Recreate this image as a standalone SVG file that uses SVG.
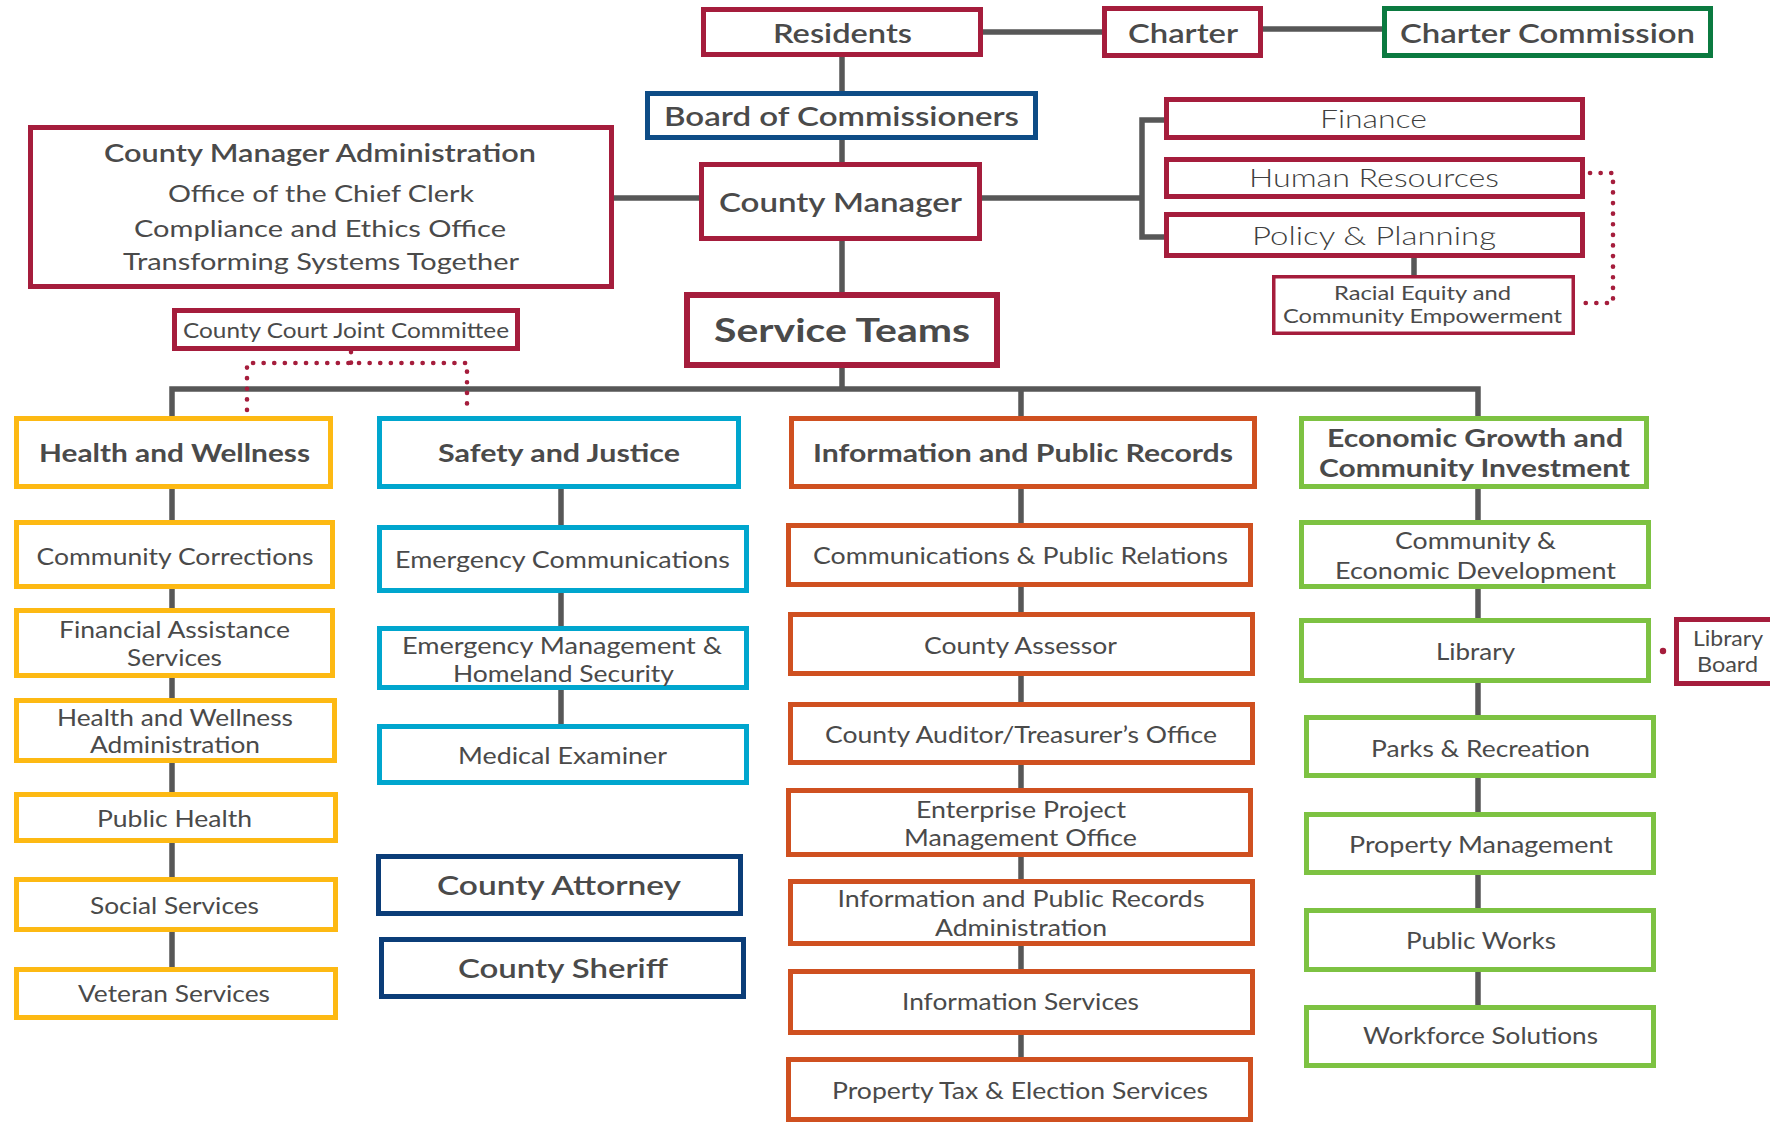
<svg xmlns="http://www.w3.org/2000/svg" width="1770" height="1124" viewBox="0 0 1770 1124">
<style>
.b{fill:#fff;stroke-width:5}
.red{stroke:#A51D3C}
.blue{stroke:#0E4C86}
.navy{stroke:#0B3D78}
.dgreen{stroke:#0B7A40}
.yel{stroke:#FDB913}
.cyan{stroke:#00A6CE}
.org{stroke:#CF5020}
.grn{stroke:#7DC242}
.ln{fill:none;stroke:#575757;stroke-width:5.5;stroke-linejoin:miter;stroke-linecap:butt}
.dot{fill:none;stroke:#A51D3C;stroke-width:4.6;stroke-dasharray:0.1 10.5;stroke-linecap:round}
text{font-family:Lato,"Open Sans","DejaVu Sans",sans-serif;fill:#4a4a4a;text-anchor:middle}
.top{font-size:26px;font-weight:600}
.hd{font-size:25px;font-weight:700}
.it{font-size:23px;font-weight:400}
.lt{font-size:26px;font-weight:300;fill:#3f3f3f}
.sm{font-size:20px;font-weight:400}
</style>
<rect width="1770" height="1124" fill="#fff"/>
<g id="connectors">
<path class="ln" d="M842 57V91M842 140V162M842 241V292M983 32H1102M1263 29H1382M614 198H699M982 198H1142M1164 120H1142V237H1164M1414 258V275"/>
<path class="ln" d="M842 368V389M172 416V389H1478V416M1021 389V416"/>
<path class="ln" d="M172 489V967M561 489V724M1021 489V1057M1478 489V1005"/>
<path class="dot" d="M351 352V363M247 410V363H467V410"/>
<path class="dot" d="M1590 173H1613V303H1578"/>
<circle cx="1663" cy="651" r="3.2" fill="#A51D3C"/>
</g>
<g id="residents"><rect class="b red" x="703.5" y="9.5" width="277" height="45"/><text class="top" x="842.5" y="43" textLength="139" lengthAdjust="spacingAndGlyphs">Residents</text></g>
<g id="charter"><rect class="b red" x="1104.5" y="8.5" width="156" height="47"/><text class="top" x="1183" y="43" textLength="110" lengthAdjust="spacingAndGlyphs">Charter</text></g>
<g id="charter-commission"><rect class="b dgreen" x="1384.5" y="8.5" width="326" height="47"/><text class="top" x="1547.5" y="43" textLength="295" lengthAdjust="spacingAndGlyphs">Charter Commission</text></g>
<g id="board"><rect class="b blue" x="647.5" y="93.5" width="388" height="44"/><text class="top" x="841.5" y="126" textLength="355" lengthAdjust="spacingAndGlyphs">Board of Commissioners</text></g>
<g id="county-manager"><rect class="b red" x="701.5" y="164.5" width="278" height="74"/><text class="top" x="840.5" y="212" textLength="243" lengthAdjust="spacingAndGlyphs">County Manager</text></g>
<g id="cma"><rect class="b red" x="30.5" y="127.5" width="581" height="159"/>
<text class="top" style="font-size:25px" x="320" y="162" textLength="432" lengthAdjust="spacingAndGlyphs">County Manager Administration</text>
<text class="it" style="font-size:24px" x="321" y="202" textLength="306" lengthAdjust="spacingAndGlyphs">Office of the Chief Clerk</text>
<text class="it" style="font-size:24px" x="320" y="237" textLength="372" lengthAdjust="spacingAndGlyphs">Compliance and Ethics Office</text>
<text class="it" style="font-size:24px" x="321" y="270" textLength="396" lengthAdjust="spacingAndGlyphs">Transforming Systems Together</text></g>
<g id="finance"><rect class="b red" x="1166.5" y="99.5" width="416" height="38"/><text class="lt" x="1373.5" y="128" textLength="107" lengthAdjust="spacingAndGlyphs">Finance</text></g>
<g id="hr"><rect class="b red" x="1166.5" y="159.5" width="416" height="37"/><text class="lt" x="1374" y="187" textLength="250" lengthAdjust="spacingAndGlyphs">Human Resources</text></g>
<g id="policy"><rect class="b red" x="1166.5" y="214.5" width="416" height="41"/><text class="lt" x="1374" y="245" textLength="244" lengthAdjust="spacingAndGlyphs">Policy &amp; Planning</text></g>
<g id="racial-equity"><rect class="b red" style="stroke-width:3.5" x="1273.75" y="276.75" width="299.5" height="56.5"/>
<text class="sm" x="1422.5" y="300" textLength="177" lengthAdjust="spacingAndGlyphs">Racial Equity and</text>
<text class="sm" x="1422.5" y="323" textLength="279" lengthAdjust="spacingAndGlyphs">Community Empowerment</text></g>
<g id="service-teams"><rect class="b red" style="stroke-width:6" x="687" y="295" width="310" height="70"/><text style="font-size:33px;font-weight:700" x="842" y="342" textLength="256" lengthAdjust="spacingAndGlyphs">Service Teams</text></g>
<g id="ccjc"><rect class="b red" x="174.5" y="310.5" width="343" height="38"/><text class="sm" style="font-size:21px" x="346" y="338" textLength="326" lengthAdjust="spacingAndGlyphs">County Court Joint Committee</text></g>

<g id="health-wellness"><rect class="b yel" x="16.5" y="418.5" width="314" height="68"/><text class="hd" x="174.5" y="462" textLength="271" lengthAdjust="spacingAndGlyphs">Health and Wellness</text></g>
<g id="community-corrections"><rect class="b yel" x="16.5" y="522.5" width="316" height="64"/><text class="it" x="175" y="565" textLength="277" lengthAdjust="spacingAndGlyphs">Community Corrections</text></g>
<g id="financial-assistance"><rect class="b yel" x="16.5" y="610.5" width="316" height="65"/><text class="it" x="174.5" y="638" textLength="231" lengthAdjust="spacingAndGlyphs">Financial Assistance</text><text class="it" x="174.5" y="666" textLength="95" lengthAdjust="spacingAndGlyphs">Services</text></g>
<g id="hw-admin"><rect class="b yel" x="16.5" y="700.5" width="318" height="60"/><text class="it" x="175" y="726" textLength="236" lengthAdjust="spacingAndGlyphs">Health and Wellness</text><text class="it" x="175" y="753" textLength="170" lengthAdjust="spacingAndGlyphs">Administration</text></g>
<g id="public-health"><rect class="b yel" x="16.5" y="794.5" width="319" height="46"/><text class="it" x="174.5" y="827" textLength="155" lengthAdjust="spacingAndGlyphs">Public Health</text></g>
<g id="social-services"><rect class="b yel" x="16.5" y="879.5" width="319" height="50"/><text class="it" x="174.5" y="914" textLength="169" lengthAdjust="spacingAndGlyphs">Social Services</text></g>
<g id="veteran-services"><rect class="b yel" x="16.5" y="969.5" width="319" height="48"/><text class="it" x="174" y="1002" textLength="192" lengthAdjust="spacingAndGlyphs">Veteran Services</text></g>

<g id="safety-justice"><rect class="b cyan" x="379.5" y="418.5" width="359" height="68"/><text class="hd" x="559" y="462" textLength="242" lengthAdjust="spacingAndGlyphs">Safety and Justice</text></g>
<g id="emergency-communications"><rect class="b cyan" x="379.5" y="527.5" width="367" height="63"/><text class="it" x="562.5" y="568" textLength="335" lengthAdjust="spacingAndGlyphs">Emergency Communications</text></g>
<g id="emergency-management"><rect class="b cyan" x="379.5" y="628.5" width="367" height="59"/><text class="it" x="562" y="654" textLength="320" lengthAdjust="spacingAndGlyphs">Emergency Management &amp;</text><text class="it" x="563.5" y="682" textLength="221" lengthAdjust="spacingAndGlyphs">Homeland Security</text></g>
<g id="medical-examiner"><rect class="b cyan" x="379.5" y="726.5" width="367" height="56"/><text class="it" x="562.5" y="764" textLength="209" lengthAdjust="spacingAndGlyphs">Medical Examiner</text></g>
<g id="county-attorney"><rect class="b navy" x="378.5" y="856.5" width="362" height="57"/><text class="top" x="559" y="895" textLength="244" lengthAdjust="spacingAndGlyphs">County Attorney</text></g>
<g id="county-sheriff"><rect class="b navy" x="381.5" y="939.5" width="362" height="57"/><text class="top" x="563" y="978" textLength="210" lengthAdjust="spacingAndGlyphs">County Sheriff</text></g>

<g id="info-public-records"><rect class="b org" x="791.5" y="418.5" width="463" height="68"/><text class="hd" x="1023" y="462" textLength="420" lengthAdjust="spacingAndGlyphs">Information and Public Records</text></g>
<g id="communications-pr"><rect class="b org" x="788.5" y="525.5" width="462" height="59"/><text class="it" x="1020.5" y="564" textLength="415" lengthAdjust="spacingAndGlyphs">Communications &amp; Public Relations</text></g>
<g id="county-assessor"><rect class="b org" x="790.5" y="614.5" width="462" height="59"/><text class="it" x="1020.5" y="654" textLength="193" lengthAdjust="spacingAndGlyphs">County Assessor</text></g>
<g id="county-auditor"><rect class="b org" x="790.5" y="704.5" width="462" height="58"/><text class="it" x="1021" y="743" textLength="392" lengthAdjust="spacingAndGlyphs">County Auditor/Treasurer’s Office</text></g>
<g id="enterprise-pmo"><rect class="b org" x="788.5" y="790.5" width="462" height="64"/><text class="it" x="1021" y="818" textLength="210" lengthAdjust="spacingAndGlyphs">Enterprise Project</text><text class="it" x="1020.5" y="846" textLength="233" lengthAdjust="spacingAndGlyphs">Management Office</text></g>
<g id="ipr-admin"><rect class="b org" x="790.5" y="881.5" width="462" height="62"/><text class="it" x="1021" y="907" textLength="367" lengthAdjust="spacingAndGlyphs">Information and Public Records</text><text class="it" x="1021" y="936" textLength="172" lengthAdjust="spacingAndGlyphs">Administration</text></g>
<g id="information-services"><rect class="b org" x="790.5" y="971.5" width="462" height="61"/><text class="it" x="1020.5" y="1010" textLength="237" lengthAdjust="spacingAndGlyphs">Information Services</text></g>
<g id="property-tax"><rect class="b org" x="788.5" y="1059.5" width="462" height="60"/><text class="it" x="1020" y="1099" textLength="376" lengthAdjust="spacingAndGlyphs">Property Tax &amp; Election Services</text></g>

<g id="economic-growth"><rect class="b grn" x="1301.5" y="418.5" width="345" height="68"/><text class="hd" x="1475" y="447" textLength="296" lengthAdjust="spacingAndGlyphs">Economic Growth and</text><text class="hd" x="1474.5" y="477" textLength="311" lengthAdjust="spacingAndGlyphs">Community Investment</text></g>
<g id="community-economic-dev"><rect class="b grn" x="1301.5" y="522.5" width="347" height="64"/><text class="it" x="1475.5" y="549" textLength="161" lengthAdjust="spacingAndGlyphs">Community &amp;</text><text class="it" x="1475.5" y="579" textLength="281" lengthAdjust="spacingAndGlyphs">Economic Development</text></g>
<g id="library"><rect class="b grn" x="1301.5" y="620.5" width="347" height="60"/><text class="it" x="1475.5" y="660" textLength="79" lengthAdjust="spacingAndGlyphs">Library</text></g>
<g id="library-board"><rect class="b red" x="1676.5" y="619.5" width="110" height="64"/><text class="sm" style="font-size:21px" x="1728" y="646" textLength="70" lengthAdjust="spacingAndGlyphs">Library</text><text class="sm" style="font-size:21px" x="1727.5" y="672" textLength="61" lengthAdjust="spacingAndGlyphs">Board</text></g>
<g id="parks-recreation"><rect class="b grn" x="1306.5" y="717.5" width="347" height="58"/><text class="it" x="1480.5" y="757" textLength="219" lengthAdjust="spacingAndGlyphs">Parks &amp; Recreation</text></g>
<g id="property-management"><rect class="b grn" x="1306.5" y="814.5" width="347" height="58"/><text class="it" x="1481" y="853" textLength="264" lengthAdjust="spacingAndGlyphs">Property Management</text></g>
<g id="public-works"><rect class="b grn" x="1306.5" y="910.5" width="347" height="59"/><text class="it" x="1481" y="949" textLength="150" lengthAdjust="spacingAndGlyphs">Public Works</text></g>
<g id="workforce-solutions"><rect class="b grn" x="1306.5" y="1007.5" width="347" height="58"/><text class="it" x="1480.5" y="1044" textLength="235" lengthAdjust="spacingAndGlyphs">Workforce Solutions</text></g>
</svg>
